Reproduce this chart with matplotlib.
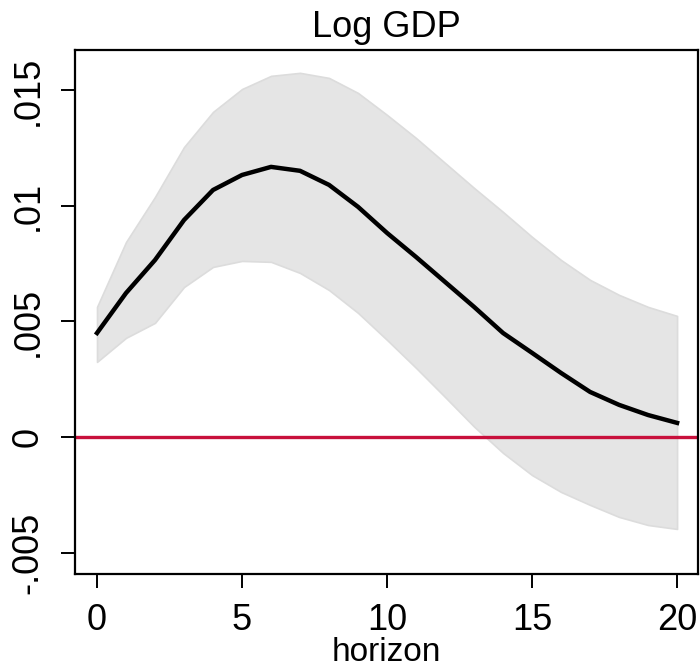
import numpy as np
import matplotlib.pyplot as plt

plt.rcParams['font.family'] = ['Liberation Sans', 'DejaVu Sans']

# impulse response of log GDP, horizon 0..20
horizon = np.arange(21)
irf = [0.00450, 0.00623, 0.00766, 0.00939, 0.01069, 0.01134, 0.01169, 0.01152,
       0.01091, 0.00996, 0.00883, 0.00779, 0.00671, 0.00563, 0.00450, 0.00364,
       0.00277, 0.00195, 0.00139, 0.00095, 0.00061]
upper = [0.00563, 0.00844, 0.01039, 0.01255, 0.01407, 0.01506, 0.01563, 0.01576,
         0.01554, 0.01489, 0.01394, 0.01294, 0.01186, 0.01078, 0.00974, 0.00866,
         0.00766, 0.00680, 0.00615, 0.00563, 0.00524]
lower = [0.00325, 0.00429, 0.00494, 0.00649, 0.00736, 0.00762, 0.00758, 0.00710,
         0.00636, 0.00537, 0.00420, 0.00299, 0.00173, 0.00045, -0.00069, -0.00165,
         -0.00238, -0.00294, -0.00346, -0.00381, -0.00398]

xticks = [0, 5, 10, 15, 20]
yticks = [-0.005, 0, 0.005, 0.01, 0.015]
ylabels = ['-.005', '0', '.005', '.01', '.015']

fig = plt.figure(figsize=(7, 6.69), dpi=100)
ax = fig.add_axes([0.1071, 0.142, 0.89, 0.7833])

ax.fill_between(horizon, lower, upper, color='#e5e5e5', edgecolor='#dcdcdc', linewidth=1.2, zorder=1)
ax.axhline(0, color='#c8103c', linewidth=2.4, zorder=2)
ax.plot(horizon, irf, color='black', linewidth=3.2, zorder=3)

ax.set_xlim(-0.76, 20.72)
ax.set_ylim(-0.00593, 0.01675)
ax.set_xticks(xticks)
ax.set_yticks(yticks)
ax.set_yticklabels(ylabels, rotation=90, va='center')
ax.tick_params(axis='both', labelsize=26, length=10, width=1.4)
ax.tick_params(axis='x', pad=11)
ax.tick_params(axis='y', pad=11)
for s in ax.spines.values():
    s.set_linewidth(1.6)

ax.set_title('Log GDP', fontsize=26, pad=9)
ax.set_xlabel('horizon', fontsize=24, labelpad=-1)

fig.savefig('out.png', dpi=100)
